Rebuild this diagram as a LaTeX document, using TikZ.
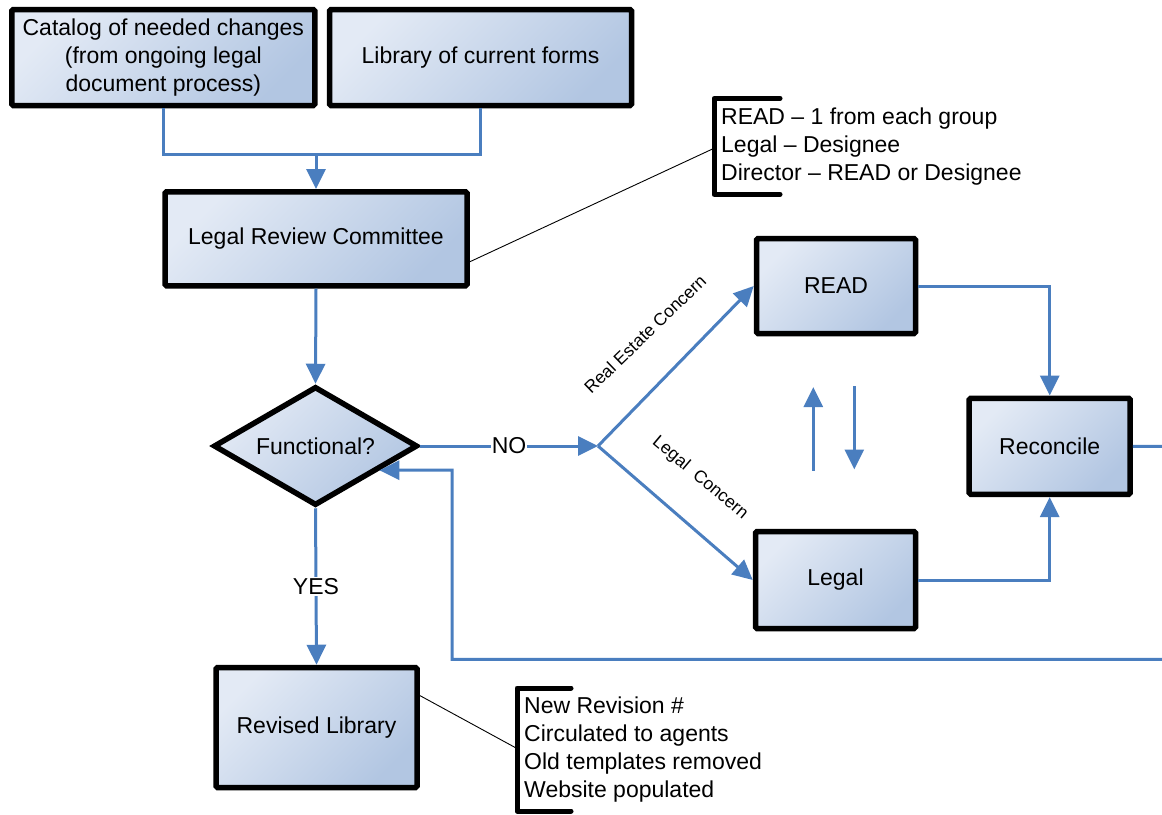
\documentclass[tikz,border=0pt]{standalone}
\usepackage{fontspec}
\setmainfont{Liberation Sans}
\usetikzlibrary{arrows.meta,shapes.geometric,calc}
\definecolor{flow}{HTML}{4A7EBF}
\definecolor{boxlight}{HTML}{E3EAF5}
\definecolor{boxdark}{HTML}{B2C6E2}
\begin{document}
\begin{tikzpicture}[x=1pt,y=-1pt,
  box/.style={draw=black, line width=5.5pt, rounded corners=1.5pt, shading=axis,
    top color=boxlight, bottom color=boxdark, shading angle=45, inner sep=0pt,
    align=center, font=\fontsize{23}{28}\selectfont},
  dia/.style={box, diamond, rounded corners=0pt, line join=miter},
  flow/.style={draw=flow, line width=3pt},
  arr/.style={flow, -{Triangle[length=20pt,width=19pt]}},
  lab/.style={fill=white, inner sep=1pt, font=\fontsize{23}{28}\selectfont},
  rlab/.style={inner sep=0pt, font=\fontsize{17.5}{19}\selectfont},
  bracket/.style={draw=black, line width=5pt, line join=round, line cap=round},
  leader/.style={draw=black, line width=0.9pt},
  note/.style={anchor=west, align=left, inner sep=0pt, font=\fontsize{23}{28}\selectfont}]
\useasboundingbox (0,0) rectangle (1162,814);

% boxes
\node[box, minimum width=303pt, minimum height=96pt] (cat) at (163.3,57.5)
  {Catalog of needed changes\\(from ongoing legal\\document process)};
\node[box, minimum width=302pt, minimum height=96pt] (lib) at (480.5,57.5)
  {Library of current forms};
\node[box, minimum width=302pt, minimum height=94pt] (lrc) at (316,238.8)
  {Legal Review Committee};
\node[dia, minimum width=204pt, minimum height=119pt, aspect=1.71] (dia) at (315.5,446)
  {Functional?};
\node[box, minimum width=159pt, minimum height=95pt] (read) at (836,286)
  {READ};
\node[box, minimum width=160pt, minimum height=97pt] (legal) at (835.5,580)
  {Legal};
\node[box, minimum width=161pt, minimum height=96pt] (rec) at (1049.7,446.3)
  {Reconcile};
\node[box, minimum width=201pt, minimum height=120pt] (rev) at (316.5,727.5)
  {Revised Library};

% coordinates
\coordinate (j) at (316,154.3);
\coordinate (br) at (598,446);
\coordinate (dtip) at ($(dia.east)!0.39!(dia.south)$);
\coordinate (u1) at (813.3,470.5);
\coordinate (u2) at (813.3,387);
\coordinate (d1) at (854.3,386);
\coordinate (d2) at (854.3,469.5);
\coordinate (b1p) at (714,148.3);
\coordinate (b2p) at (517,748.5);

% connectors
\draw[flow] (cat.south) |- (j) -| (lib.south);
\draw[arr] (j) -- (lrc.north);
\draw[arr] (lrc.south) -- (dia.north);
\draw[arr] (dia.east) -- node[lab, pos=0.5] {NO} (br);
\draw[arr] (br) -- (read.west);
\draw[arr] (br) -- (legal.west);
\draw[arr] (read.east) -| (rec.north);
\draw[arr] (legal.east) -| (rec.south);
\draw[arr] (dia.south) -- node[lab, pos=0.5] {YES} (rev.north);
\draw[arr] (u1) -- (u2);
\draw[arr] (d1) -- (d2);
\begin{scope}
  \clip (0,0) rectangle (1162,814);
  \draw[arr] (rec.east) -- (1190,446.3) -- (1190,659.3) -- (452,659.3) -- (452,470) -- (dtip);
\end{scope}

% rotated labels
\node[rlab, rotate=44] at (645,334) {Real Estate Concern};
\node[rlab, rotate=-40] at (700,478) {Legal\ \ Concern};

% annotations
\draw[bracket] (780,98.3) -- (714,98.3) -- (714,194.3) -- (780,194.3);
\node[note] (n1) at (721,146.5)
  {READ – 1 from each group\\Legal – Designee\\Director – READ or Designee};
\draw[leader] ([yshift=-23pt]lrc.east) -- (b1p);

\draw[bracket] (571,688) -- (517,688) -- (517,811) -- (571,811);
\node[note] (n2) at (524,749.3)
  {New Revision \#\\Circulated to agents\\Old templates removed\\Website populated};
\draw[leader] ([yshift=32pt]rev.east) -- (b2p);
\end{tikzpicture}
\end{document}
